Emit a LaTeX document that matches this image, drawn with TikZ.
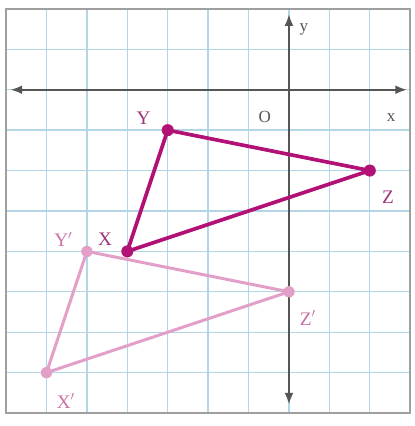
\documentclass[tikz,border=0pt]{standalone}
\usepackage{fontspec}
\setmainfont{Liberation Serif}
\usetikzlibrary{arrows.meta}
\definecolor{gridblue}{RGB}{178,214,230}
\definecolor{axisgray}{RGB}{85,85,85}
\definecolor{preimg}{RGB}{178,18,118}
\definecolor{imgpink}{RGB}{226,160,200}
\definecolor{prelab}{RGB}{158,52,120}
\definecolor{imglab}{RGB}{204,112,166}

\begin{document}
\begin{tikzpicture}[
  gridline/.style={line width=0.95pt,gridblue},
  frameline/.style={line width=1.4pt,gray!75},
  axis/.style={line width=1.7pt,axisgray,
               {Latex[length=3mm,width=2.2mm]}-{Latex[length=3mm,width=2.2mm]}},
  pretri/.style={line width=2.6pt,preimg,line join=round},
  imgtri/.style={line width=2.1pt,imgpink,line join=round},
  predot/.style={circle,fill=preimg,inner sep=0pt,minimum size=8.5pt},
  imgdot/.style={circle,fill=imgpink,inner sep=0pt,minimum size=8pt},
  prelabel/.style={prelab,font=\fontsize{13.5}{15}\selectfont},
  imglabel/.style={imglab,font=\fontsize{13.5}{15}\selectfont},
  axlabel/.style={axisgray,font=\fontsize{12}{14}\selectfont}]

  \useasboundingbox (-7.15,-8.32) rectangle (3.1,2.22);

  % ===== grid paper and frame =====
  \draw[gridline] (-7,-8) grid (3,2);
  \draw[frameline] (-7,-8) rectangle (3,2);

  % ===== axes =====
  \coordinate (xminus) at (-6.9,0);  \coordinate (xplus) at (2.93,0);
  \coordinate (yplus) at (0,1.88);   \coordinate (yminus) at (0,-7.8);
  \draw[axis] (xminus)--(xplus);
  \draw[axis] (yminus)--(yplus);
  \node[axlabel] (labx) at (2.53,-0.68) {x};
  \node[axlabel] (laby) at (0.37,1.5) {y};
  \node[axlabel] (labO) at (-0.6,-0.67) {O};

  % ===== vertices =====
  \coordinate (X) at (-4,-4);  \coordinate (Y) at (-3,-1);  \coordinate (Z) at (2,-2);
  \coordinate (Xp) at (-6,-7); \coordinate (Yp) at (-5,-4); \coordinate (Zp) at (0,-5);

  % ===== image X'Y'Z' (translated) =====
  \draw[imgtri] (Xp)--(Yp)--(Zp)--cycle;
  \node[imgdot] (dotXp) at (Xp){}; \node[imgdot] (dotYp) at (Yp){};
  \node[imgdot] (dotZp) at (Zp){};

  % ===== preimage XYZ =====
  \draw[pretri] (X)--(Y)--(Z)--cycle;
  \node[predot] (dotX) at (X){}; \node[predot] (dotY) at (Y){};
  \node[predot] (dotZ) at (Z){};

  % ===== labels =====
  \node[prelabel] (labY) at (-3.6,-0.7) {Y};
  \node[prelabel] (labZ) at (2.45,-2.65) {Z};
  \node[prelabel] (labX) at (-4.55,-3.7) {X};
  \node[imglabel] (labYp) at (-5.58,-3.7) {Y$'$};
  \node[imglabel] (labZp) at (0.47,-5.65) {Z$'$};
  \node[imglabel] (labXp) at (-5.52,-7.7) {X$'$};

\end{tikzpicture}
\end{document}
